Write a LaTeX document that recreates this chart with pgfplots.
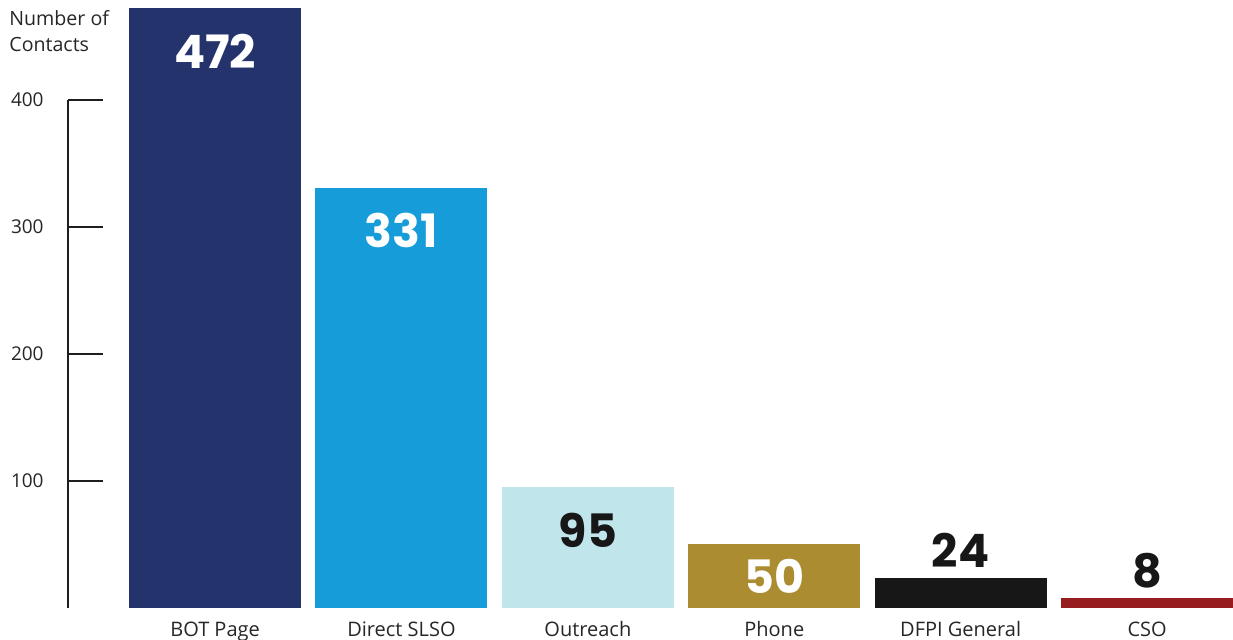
\documentclass[border=0pt]{standalone}
\usepackage{pgfplots}
\pgfplotsset{compat=1.18}
\usepackage{fontspec}
\setmainfont{Open Sans}
\newfontfamily\numfont{Poppins}
\definecolor{cNavy}{HTML}{24336C}
\definecolor{cBlue}{HTML}{169CD8}
\definecolor{cLight}{HTML}{C0E5EA}
\definecolor{cGold}{HTML}{AB8C31}
\definecolor{cBlack}{HTML}{171717}
\definecolor{cRed}{HTML}{961C20}
\definecolor{cAxis}{HTML}{1E1E1E}
\definecolor{cText}{HTML}{262626}
\begin{document}
\begin{tikzpicture}
\begin{axis}[
  at={(34pt,16pt)}, anchor=south west,
  scale only axis, width=582.5pt, height=300pt,
  xmin=-0.789, xmax=5.461, ymin=0, ymax=472.4,
  ybar, bar width=86pt, bar shift=0pt,
  clip=false,
  axis line style={draw=none},
  tick pos=left,
  ytick={100,200,300,400},
  xtick={0,1,2,3,4,5},
  xticklabels={BOT Page,Direct SLSO,Outreach,Phone,DFPI General,CSO},
  x tick style={draw=none},
  y tick style={draw=cAxis, line width=1.25pt},
  tick align=inside,
  major tick length=17.5pt,
  /pgf/number format/assume math mode=true,
  yticklabel style={anchor=east, inner sep=0pt, xshift=-12pt, font=\fontsize{9.5}{11}\selectfont, text=cText},
  xticklabel style={anchor=base, inner sep=0pt, yshift=-14.5pt, font=\fontsize{10}{12}\selectfont, text=cText},
  nodes near coords,
  every node near coord/.style={anchor=center, font=\numfont\bfseries\fontsize{23}{23}\selectfont},
]
\addplot[fill=cNavy, draw=none, every node near coord/.append style={text=white, yshift=-21.5pt}] coordinates {(0,472)};
\addplot[fill=cBlue, draw=none, every node near coord/.append style={text=white, yshift=-21.5pt}] coordinates {(1,331)};
\addplot[fill=cLight, draw=none, every node near coord/.append style={text=cBlack, yshift=-21.5pt}] coordinates {(2,95)};
\addplot[fill=cGold, draw=none, every node near coord/.append style={text=white, yshift=-16pt}] coordinates {(3,50)};
\addplot[fill=cBlack, draw=none, every node near coord/.append style={text=cBlack, yshift=13.5pt}] coordinates {(4,24)};
\addplot[fill=cRed, draw=none, every node near coord/.append style={text=cBlack, yshift=13.5pt}] coordinates {(5,8)};
\draw[draw=cAxis, line width=1.25pt] (axis cs:-0.789,0) -- (axis cs:-0.789,400);
\end{axis}
\node[anchor=base west, inner sep=0pt, font=\fontsize{9.8}{12}\selectfont, text=cText] at (4.5pt,307pt) {Number of};
\node[anchor=base west, inner sep=0pt, font=\fontsize{9.8}{12}\selectfont, text=cText] at (4.5pt,294pt) {Contacts};
\pgfresetboundingbox
\path (0,0) rectangle (616.5pt,320pt);
\end{tikzpicture}
\end{document}
